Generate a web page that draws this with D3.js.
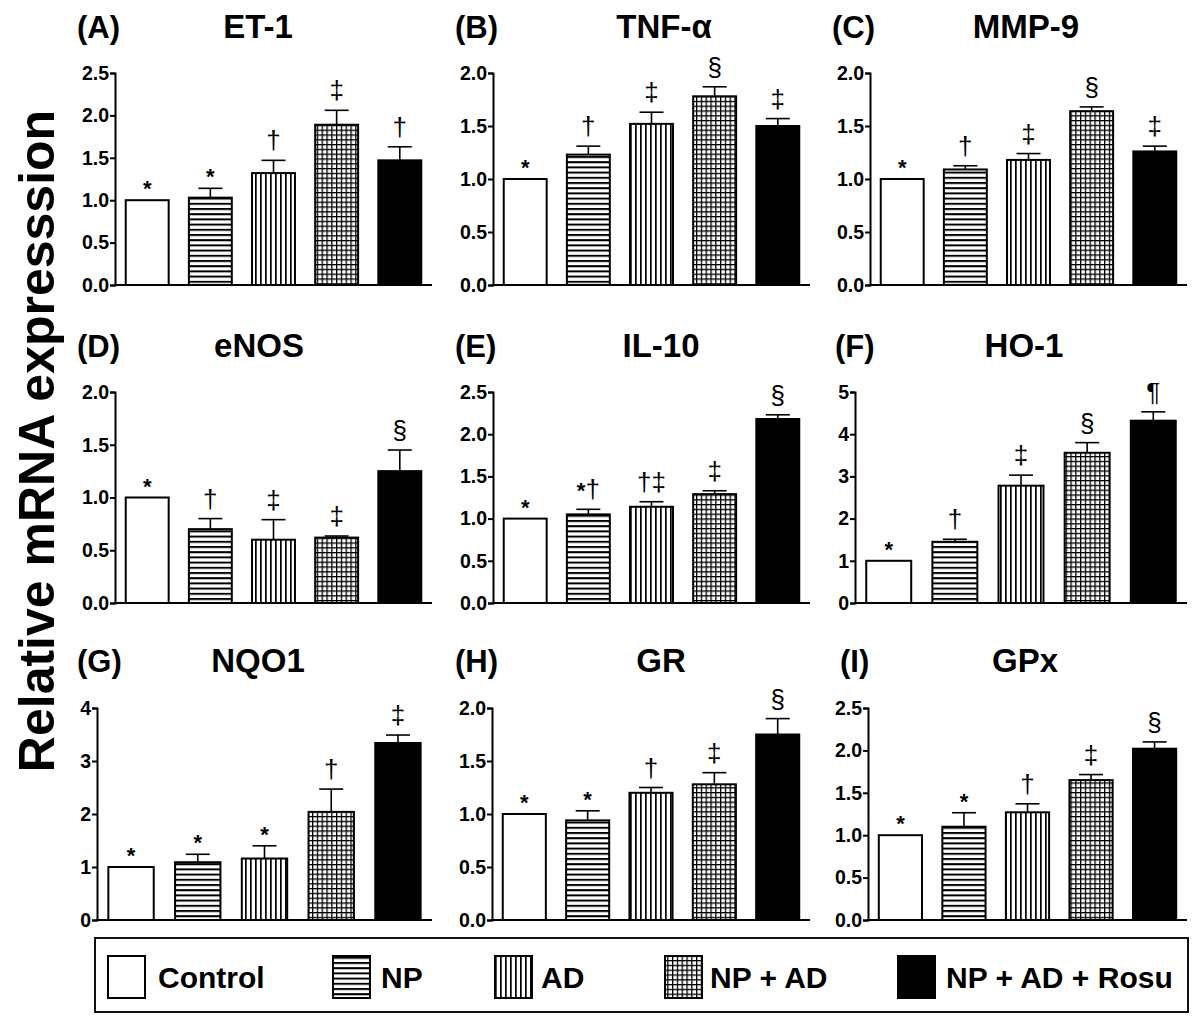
<!DOCTYPE html>
<html><head><meta charset="utf-8">
<script src="https://cdn.jsdelivr.net/npm/d3@7"></script>
<style>
body{margin:0;background:#fff;}
svg{display:block;}
text{font-family:"Liberation Sans", Arial, Helvetica, sans-serif;fill:#000;}
</style>
</head><body>
<svg id="c" width="1200" height="1018"></svg>
<script>
// ---------- DATA ----------
const groups = ["Control", "NP", "AD", "NP + AD", "NP + AD + Rosu"];
const panelLetters = ["(A)", "(B)", "(C)", "(D)", "(E)", "(F)", "(G)", "(H)", "(I)"];
const genes = ["ET-1", "TNF-α", "MMP-9", "eNOS", "IL-10", "HO-1", "NQO1", "GR", "GPx"];
const yMax = [2.5, 2.0, 2.0, 2.0, 2.5, 5, 4, 2.0, 2.5];
const yStep = [0.5, 0.5, 0.5, 0.5, 0.5, 1, 1, 0.5, 0.5];

const et1Mean = [1.0, 1.03, 1.32, 1.89, 1.47];
const et1Err  = [0, 0.11, 0.15, 0.17, 0.16];
const et1Sig  = ["*", "*", "†", "‡", "†"];

const tnfMean = [1.0, 1.23, 1.52, 1.78, 1.50];
const tnfErr  = [0, 0.08, 0.11, 0.09, 0.07];
const tnfSig  = ["*", "†", "‡", "§", "‡"];

const mmp9Mean = [1.0, 1.09, 1.18, 1.64, 1.26];
const mmp9Err  = [0, 0.035, 0.06, 0.04, 0.05];
const mmp9Sig  = ["*", "†", "‡", "§", "‡"];

const enosMean = [1.0, 0.70, 0.60, 0.62, 1.25];
const enosErr  = [0, 0.10, 0.19, 0.015, 0.20];
const enosSig  = ["*", "†", "‡", "‡", "§"];

const il10Mean = [1.0, 1.05, 1.14, 1.29, 2.18];
const il10Err  = [0, 0.06, 0.06, 0.04, 0.05];
const il10Sig  = ["*", "*†", "†‡", "‡", "§"];

const ho1Mean = [1.0, 1.45, 2.78, 3.56, 4.32];
const ho1Err  = [0, 0.06, 0.25, 0.24, 0.21];
const ho1Sig  = ["*", "†", "‡", "§", "¶"];

const nqo1Mean = [1.0, 1.09, 1.16, 2.04, 3.34];
const nqo1Err  = [0, 0.15, 0.24, 0.43, 0.15];
const nqo1Sig  = ["*", "*", "*", "†", "‡"];

const grMean = [1.0, 0.94, 1.20, 1.28, 1.75];
const grErr  = [0, 0.09, 0.05, 0.11, 0.15];
const grSig  = ["*", "*", "†", "‡", "§"];

const gpxMean = [1.0, 1.10, 1.27, 1.65, 2.02];
const gpxErr  = [0, 0.165, 0.10, 0.065, 0.08];
const gpxSig  = ["*", "*", "†", "‡", "§"];

const allMeans = [et1Mean, tnfMean, mmp9Mean, enosMean, il10Mean, ho1Mean, nqo1Mean, grMean, gpxMean];
const allErrs  = [et1Err, tnfErr, mmp9Err, enosErr, il10Err, ho1Err, nqo1Err, grErr, gpxErr];
const allSigs  = [et1Sig, tnfSig, mmp9Sig, enosSig, il10Sig, ho1Sig, nqo1Sig, grSig, gpxSig];

// ---------- LAYOUT ----------
const rows = [{top:73, bottom:285, base:38}, {top:392, bottom:603, base:357}, {top:708, bottom:920, base:672}];
const layout = [
  {x0:115, x1:432, lx:77,  tx:258},
  {x0:493, x1:810, lx:455, tx:664},
  {x0:870, x1:1187, lx:832, tx:1026},
  {x0:115, x1:432, lx:77,  tx:259},
  {x0:493, x1:810, lx:455, tx:661},
  {x0:855, x1:1187, lx:835, tx:1024},
  {x0:97,  x1:432, lx:77,  tx:258},
  {x0:492, x1:810, lx:455, tx:661},
  {x0:868, x1:1187, lx:840, tx:1025}
];

const svg = d3.select("#c");
svg.append("rect").attr("width",1200).attr("height",1018).attr("fill","#fff");

// ---------- PATTERNS ----------
const defs = svg.append("defs");
const pH = defs.append("pattern").attr("id","pH").attr("patternUnits","userSpaceOnUse").attr("width",5).attr("height",5.2);
pH.append("rect").attr("width",5).attr("height",5.2).attr("fill","#fff");
pH.append("rect").attr("x",0).attr("y",0).attr("width",5).attr("height",2).attr("fill","#000");
const pV = defs.append("pattern").attr("id","pV").attr("patternUnits","userSpaceOnUse").attr("width",5).attr("height",5);
pV.append("rect").attr("width",5).attr("height",5).attr("fill","#fff");
pV.append("rect").attr("x",0).attr("y",0).attr("width",1.7).attr("height",5).attr("fill","#000");
const pG = defs.append("pattern").attr("id","pG").attr("patternUnits","userSpaceOnUse").attr("width",4.8).attr("height",4.8);
pG.append("rect").attr("width",4.8).attr("height",4.8).attr("fill","#fff");
pG.append("rect").attr("x",0).attr("y",0).attr("width",1.3).attr("height",4.8).attr("fill","#000");
pG.append("rect").attr("x",0).attr("y",0).attr("width",4.8).attr("height",1.3).attr("fill","#000");
const fills = ["#fff", "url(#pH)", "url(#pV)", "url(#pG)", "#000"];

// ---------- PANELS ----------
genes.forEach((gene, i) => {
  const L = layout[i];
  const R = rows[Math.floor(i / 3)];
  const means = allMeans[i], errs = allErrs[i], sigs = allSigs[i];
  const g = svg.append("g");

  const x = d3.scaleBand().domain(groups).range([L.x0, L.x1]).paddingInner(0.32).paddingOuter(0.17);
  const y = d3.scaleLinear().domain([0, yMax[i]]).range([R.bottom, R.top]);

  // labels
  g.append("text").attr("x", L.lx).attr("y", R.base).attr("font-size", 31).attr("font-weight", "bold").text(panelLetters[i]);
  g.append("text").attr("x", L.tx).attr("y", R.base).attr("text-anchor", "middle").attr("font-size", 33).attr("font-weight", "bold").text(gene);

  // bars
  const bw = x.bandwidth();
  g.selectAll("rect.bar").data(means).join("rect")
    .attr("x", (d, j) => x(groups[j]))
    .attr("y", d => y(d))
    .attr("width", bw)
    .attr("height", d => y(0) - y(d))
    .attr("fill", (d, j) => fills[j])
    .attr("stroke", "#000").attr("stroke-width", 2);

  // error bars + significance marks
  means.forEach((m, j) => {
    const e = errs[j];
    const cx = x(groups[j]) + bw / 2;
    if (e > 0) {
      g.append("line").attr("x1", cx).attr("x2", cx).attr("y1", y(m)).attr("y2", y(m + e)).attr("stroke", "#000").attr("stroke-width", 1.6);
      g.append("line").attr("x1", cx - 12).attr("x2", cx + 12).attr("y1", y(m + e)).attr("y2", y(m + e)).attr("stroke", "#000").attr("stroke-width", 1.6);
    }
    const topRef = y(m + e);
    const s = sigs[j];
    const onlyStar = /^\*+$/.test(s);
    const t = g.append("text").attr("x", cx).attr("text-anchor", "middle")
      .attr("y", onlyStar ? topRef - 4 : topRef - 11);
    for (const ch of s) {
      if (ch === "*") t.append("tspan").attr("font-size", 22).attr("font-weight", "bold").text(ch);
      else t.append("tspan").attr("font-size", 26).text(ch);
    }
  });

  // axes
  const ticks = d3.range(0, yMax[i] + 1e-9, yStep[i]);
  const fmt = yStep[i] < 1 ? d3.format(".1f") : d3.format("d");
  const ax = g.append("g").attr("transform", `translate(${L.x0},0)`)
    .call(d3.axisLeft(y).tickValues(ticks).tickFormat(fmt).tickSizeOuter(0).tickSize(5).tickPadding(1));
  ax.select(".domain").attr("stroke-width", 2);
  ax.selectAll(".tick line").attr("stroke-width", 2);
  ax.selectAll(".tick text").attr("font-size", 19.5).attr("font-weight", "bold").attr("fill", "#000")
    .attr("font-family", '"Liberation Sans", Arial, sans-serif');
  g.append("line").attr("x1", L.x0 - 1).attr("x2", L.x1).attr("y1", R.bottom).attr("y2", R.bottom).attr("stroke", "#000").attr("stroke-width", 2);
});

// ---------- Y LABEL ----------
svg.append("text").attr("transform", "translate(54,441) rotate(-90)")
  .attr("text-anchor", "middle").attr("font-size", 50).attr("font-weight", "bold")
  .text("Relative mRNA expresssion");

// ---------- LEGEND ----------
const leg = svg.append("g");
leg.append("rect").attr("x", 95).attr("y", 938).attr("width", 1093).attr("height", 74)
  .attr("fill", "none").attr("stroke", "#111").attr("stroke-width", 2);
const legSwX = [108, 333, 495, 665, 898];
const legTxX = [158, 381, 541, 710, 946];
groups.forEach((gname, j) => {
  leg.append("rect").attr("x", legSwX[j]).attr("y", 956).attr("width", 37).attr("height", 42)
    .attr("fill", fills[j]).attr("stroke", "#000").attr("stroke-width", 2);
  leg.append("text").attr("x", legTxX[j]).attr("y", 988).attr("font-size", 30).attr("font-weight", "bold").text(gname);
});
</script>
</body></html>
